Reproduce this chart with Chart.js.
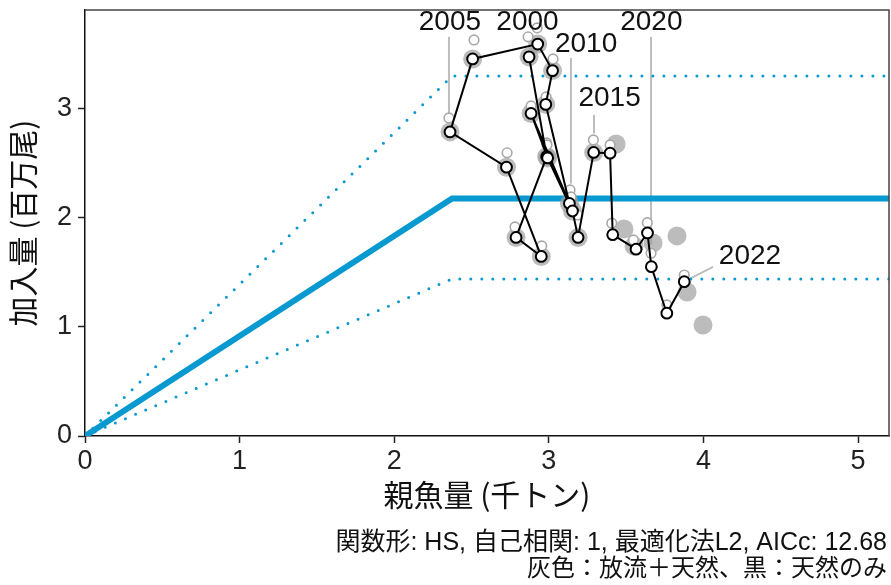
<!DOCTYPE html>
<html>
<head>
<meta charset="utf-8">
<script src="https://cdn.jsdelivr.net/npm/chart.js@4.4.1/dist/chart.umd.min.js"></script>
<style>
  html, body { margin: 0; padding: 0; background: #fff; }
  #wrap { width: 891px; height: 585px; position: relative; }
</style>
</head>
<body>
<div id="wrap"><canvas id="c" width="891" height="585"></canvas></div>
<script>
// Spawning stock (thousand t) vs. recruitment (million fish), 2000-2022
const years = [2000, 2001, 2002, 2003, 2004, 2005, 2006, 2007, 2008, 2009, 2010, 2011,
               2012, 2013, 2014, 2015, 2016, 2017, 2018, 2019, 2020, 2021, 2022];

// wild recruits only (black)
const ssbWild = [2.872, 2.986, 2.788, 2.951, 2.726, 2.361, 2.507, 2.928, 3.024, 2.980, 3.133, 2.885,
                 2.992, 3.153, 3.189, 3.290, 3.396, 3.413, 3.564, 3.638, 3.663, 3.763, 3.876];
const recWild = [3.471, 2.558, 1.818, 1.644, 2.461, 2.784, 3.452, 3.588, 3.345, 3.036, 2.129, 2.953,
                 2.546, 2.060, 1.818, 2.596, 2.589, 1.843, 1.710, 1.859, 1.550, 1.124, 1.413];

// released + wild (grey open circles)
const ssbStocked = [2.866, 2.986, 2.781, 2.954, 2.730, 2.354, 2.516, 2.924, 3.027, 2.982, 3.137, 2.885,
                    2.988, 3.144, 3.187, 3.288, 3.396, 3.407, 3.547, 3.637, 3.661, 3.763, 3.876];
const recStocked = [3.654, 2.683, 1.914, 1.740, 2.592, 2.912, 3.626, 3.736, 3.452, 3.104, 2.253, 3.022,
                    2.665, 2.189, 2.024, 2.711, 2.665, 1.948, 1.795, 1.953, 1.673, 1.200, 1.474];

// released + wild, shaded discs
const ssbShade = [2.872, 2.986, 2.788, 2.951, 2.726, 2.361, 2.507, 2.928, 3.024, 2.980, 3.133, 2.885,
                  2.992, 3.153, 3.189, 3.290, 3.435, 3.486, 3.551, 3.674, 3.829, 3.997, 3.894];
const recShade = [3.471, 2.558, 1.818, 1.644, 2.461, 2.784, 3.452, 3.588, 3.345, 3.036, 2.129, 2.953,
                  2.546, 2.060, 1.818, 2.596, 2.674, 1.896, 1.740, 1.767, 1.832, 1.016, 1.319];

// hockey-stick fit and its band
const hsBreak = 2.374;
const hsLevel = 2.174;
const hsUpper = 3.296;
const hsLower = 1.438;

const xTicks = [0, 1, 2, 3, 4, 5];
const yTicks = [0, 1, 2, 3];
const xMax = 5.2;
const yMax = 3.9;

const xTitle = '親魚量 (千トン)';
const yTitle = '加入量 (百万尾)';
const noteLines = ['関数形: HS, 自己相関: 1, 最適化法L2, AICc: 12.68', '灰色：放流＋天然、黒：天然のみ'];

// year tags: text anchor and leader line, in axis units
const yearTags = [
  { year: 2000, tx: 2.862, ty: 3.79, line: null },
  { year: 2005, tx: 2.360, ty: 3.79, line: [2.354, 3.654, 2.354, 2.95] },
  { year: 2010, tx: 3.241, ty: 3.59, line: [3.143, 3.46, 3.143, 2.31] },
  { year: 2015, tx: 3.393, ty: 3.09, line: [3.292, 2.94, 3.292, 2.77] },
  { year: 2020, tx: 3.663, ty: 3.79, line: [3.661, 3.654, 3.661, 1.75] },
  { year: 2022, tx: 4.301, ty: 1.648, line: [4.062, 1.548, 3.913, 1.44] }
];

const BLUE = '#0899d0';
const pts = (xs, ys) => xs.map((x, i) => ({ x: x, y: ys[i] }));

const framePlugin = {
  id: 'frame',
  beforeDatasetsDraw(chart) {
    const { ctx, scales: { x, y } } = chart;
    ctx.save();
    ctx.strokeStyle = '#bdbdbd';
    ctx.lineWidth = 2;
    yearTags.forEach(t => {
      if (!t.line) return;
      ctx.beginPath();
      ctx.moveTo(x.getPixelForValue(t.line[0]), y.getPixelForValue(t.line[1]));
      ctx.lineTo(x.getPixelForValue(t.line[2]), y.getPixelForValue(t.line[3]));
      ctx.stroke();
    });
    ctx.restore();
  },
  afterDatasetsDraw(chart) {
    const { ctx, chartArea: a, scales: { x, y } } = chart;
    ctx.save();
    ctx.strokeStyle = '#444';
    ctx.lineWidth = 1.5;
    ctx.beginPath();
    ctx.moveTo(a.left, a.top);
    ctx.lineTo(a.right, a.top);
    ctx.lineTo(a.right, a.bottom);
    ctx.stroke();
    ctx.fillStyle = '#111';
    ctx.font = "28px 'Liberation Sans', Arial, sans-serif";
    ctx.textAlign = 'center';
    ctx.textBaseline = 'middle';
    yearTags.forEach(t => {
      ctx.fillText(String(t.year), x.getPixelForValue(t.tx), y.getPixelForValue(t.ty));
    });
    ctx.restore();
  },
  afterDraw(chart) {
    const { ctx } = chart;
    ctx.save();
    ctx.fillStyle = '#111';
    ctx.textAlign = 'right';
    ctx.textBaseline = 'alphabetic';
    ctx.font = "25px 'Liberation Sans', 'Noto Sans CJK JP', sans-serif";
    ctx.fillText(noteLines[0], 887, 550);
    ctx.font = "24px 'Noto Sans CJK JP', sans-serif";
    ctx.fillText(noteLines[1], 887, 576);
    ctx.restore();
  }
};

// keep the plot box fixed: no extra room reserved for edge tick labels
const clearPad = s => { s.paddingTop = 0; s.paddingBottom = 0; s.paddingLeft = 0; s.paddingRight = 0; };

const axisGrid = { drawOnChartArea: false, drawTicks: true, tickLength: 7, tickColor: '#222', tickWidth: 1.5 };
const tickFont = { family: "'Liberation Sans', Arial, sans-serif", size: 27 };
const titleFont = { family: "'Noto Sans CJK JP', sans-serif", size: 30 };

new Chart(document.getElementById('c'), {
  type: 'scatter',
  data: {
    datasets: [
      { label: '天然のみ', data: pts(ssbWild, recWild), showLine: true, borderColor: '#000', borderWidth: 2,
        pointRadius: 5.4, pointBorderWidth: 2, pointBorderColor: '#000', pointBackgroundColor: '#fff', order: 0 },
      { label: '放流＋天然', data: pts(ssbStocked, recStocked), showLine: false,
        pointRadius: 4.8, pointBorderWidth: 1.6, pointBorderColor: '#a8a8a8', pointBackgroundColor: '#fff', order: 1 },
      { label: '放流＋天然 (面)', data: pts(ssbShade, recShade), showLine: false,
        pointRadius: 9.5, pointBorderWidth: 0, pointBackgroundColor: 'rgba(160,160,160,0.7)', order: 2 },
      { label: 'HS', data: [{ x: 0, y: 0 }, { x: hsBreak, y: hsLevel }, { x: xMax, y: hsLevel }], showLine: true,
        borderColor: BLUE, borderWidth: 6, pointRadius: 0, order: 3 },
      { label: 'upper', data: [{ x: 0, y: 0 }, { x: hsBreak, y: hsUpper }, { x: xMax, y: hsUpper }], showLine: true,
        borderColor: BLUE, borderWidth: 3, borderDash: [0, 11], borderCapStyle: 'round', pointRadius: 0, order: 4 },
      { label: 'lower', data: [{ x: 0, y: 0 }, { x: hsBreak, y: hsLower }, { x: xMax, y: hsLower }], showLine: true,
        borderColor: BLUE, borderWidth: 3, borderDash: [0, 11], borderCapStyle: 'round', pointRadius: 0, order: 5 }
    ]
  },
  options: {
    responsive: false,
    animation: false,
    events: [],
    layout: { autoPadding: false, padding: { left: 0, right: 2, top: 10, bottom: 0 } },
    plugins: { legend: { display: false }, tooltip: { enabled: false } },
    scales: {
      x: {
        type: 'linear', min: 0, max: xMax,
        afterBuildTicks: s => { s.ticks = xTicks.map(v => ({ value: v })); },
        afterFit: s => { s.height = 149; clearPad(s); },
        grid: axisGrid,
        border: { display: true, color: '#111', width: 1.5 },
        ticks: { color: '#222', font: tickFont, padding: 2, maxRotation: 0, autoSkip: false },
        title: { display: true, text: xTitle, color: '#111', font: titleFont, padding: { top: 0, bottom: 72 } }
      },
      y: {
        type: 'linear', min: 0, max: yMax,
        afterBuildTicks: s => { s.ticks = yTicks.map(v => ({ value: v })); },
        afterFit: s => { s.width = 85; clearPad(s); },
        grid: axisGrid,
        border: { display: true, color: '#111', width: 1.5 },
        ticks: { color: '#222', font: tickFont, padding: 6, autoSkip: false },
        title: { display: true, text: yTitle, color: '#111', font: titleFont, padding: { top: 5, bottom: 0 } }
      }
    }
  },
  plugins: [framePlugin]
});
</script>
</body>
</html>
